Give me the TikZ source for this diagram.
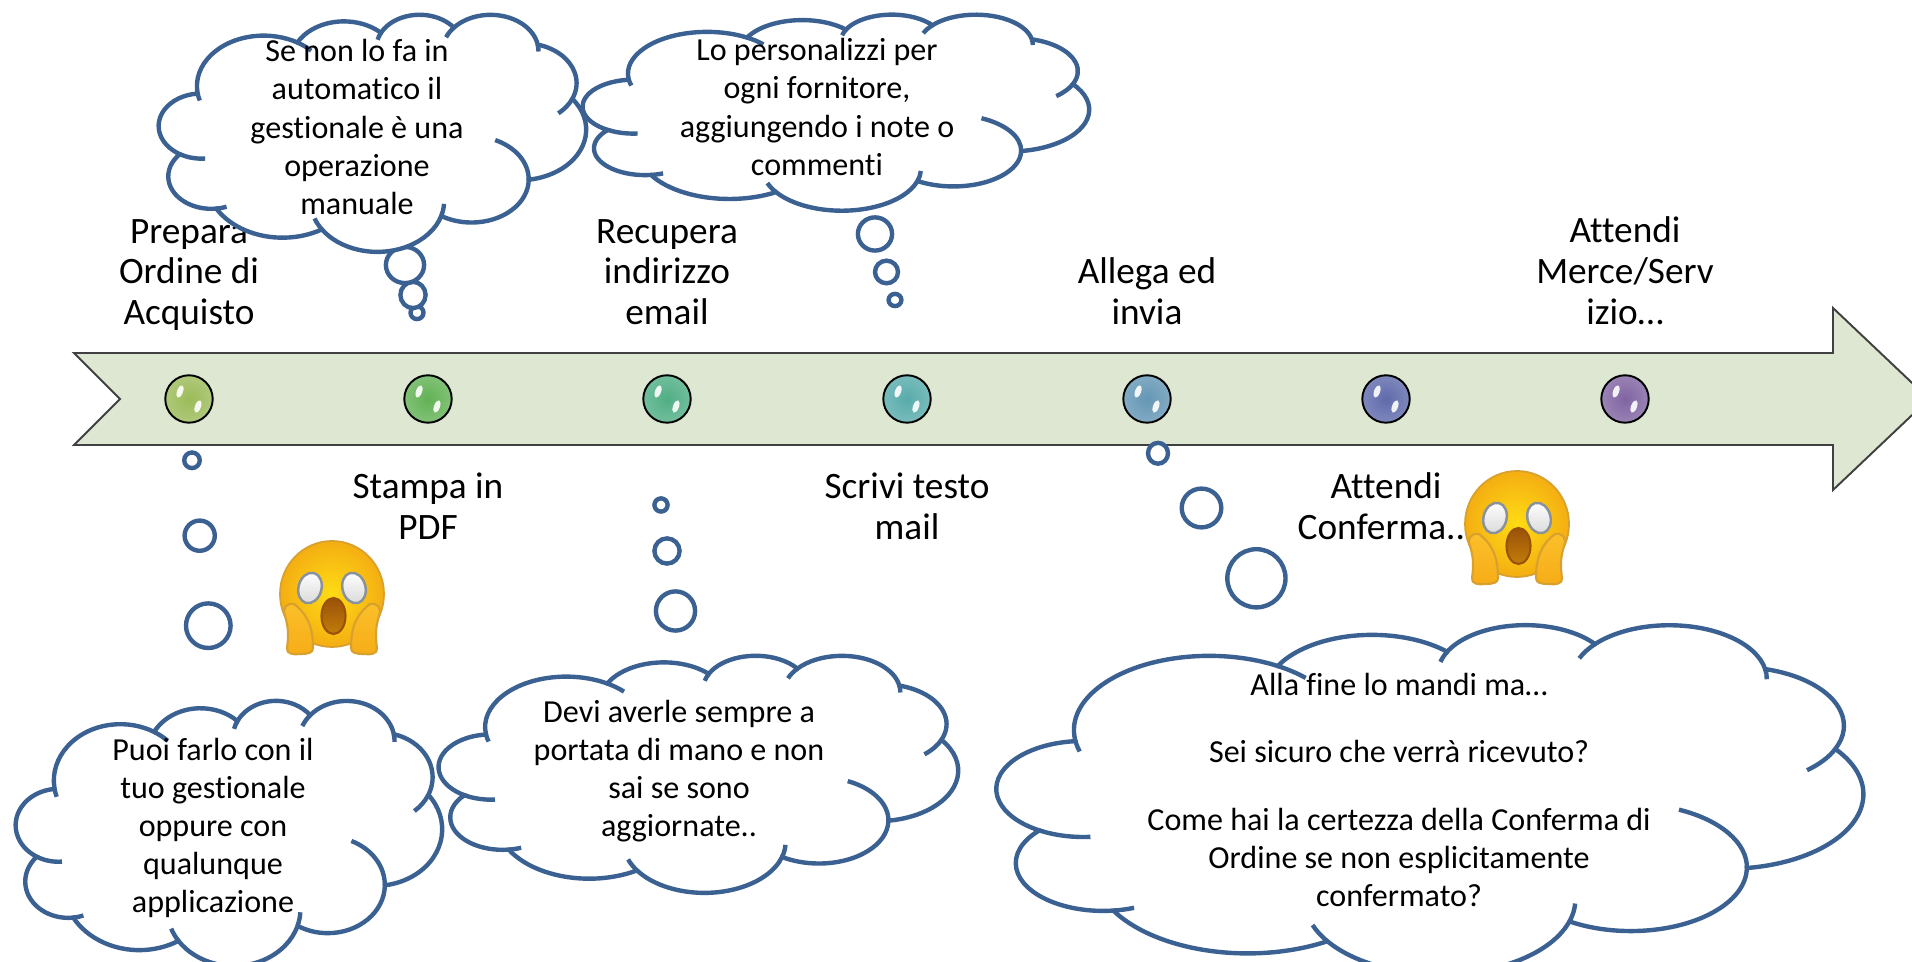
\documentclass[tikz,border=0pt]{standalone}
\usepackage{fontspec}
\setmainfont{Carlito}[Ligatures=NoCommon]
\usetikzlibrary{calc}
\definecolor{bandfill}{HTML}{DEE7D2}
\definecolor{cloudblue}{HTML}{3A6191}
\definecolor{ballA}{HTML}{9BBB59}
\definecolor{ballB}{HTML}{62B255}
\definecolor{ballC}{HTML}{4FAE84}
\definecolor{ballD}{HTML}{58ABAB}
\definecolor{ballE}{HTML}{6496B5}
\definecolor{ballF}{HTML}{5F6AAB}
\definecolor{ballG}{HTML}{8064A2}
\definecolor{facemid}{HTML}{FFDC14}
\definecolor{facerim}{HTML}{F4AE12}
\definecolor{faceline}{HTML}{D8A02E}
\definecolor{handtop}{HTML}{FBC02A}
\definecolor{handlow}{HTML}{F6AC17}
\definecolor{mouthtop}{HTML}{9A5208}
\definecolor{mouthlow}{HTML}{C27C0A}
\definecolor{eyeline}{HTML}{8A919E}
\tikzset{
  cloudline/.style={draw=cloudblue,line width=1.25pt},
  bubble/.style={cloudline,fill=white},
  steptext/.style={align=center,font=\fontsize{10.6}{11.6}\selectfont},
  cloudtext/.style={align=center,font=\fontsize{9.12}{10.87}\selectfont},
  ball/.style={circle,draw=black,line width=0.55pt,minimum size=0.474cm,inner sep=0pt},
  shine/.style={white,opacity=0.9},
  pics/thought/.style={code={
    \draw[cloudline,fill=white] (39,143.7) coordinate (j0)
      arc[x radius=67.53,y radius=91.9,start angle=-187.74,delta angle=128.11] coordinate (j1)
      arc[x radius=53.33,y radius=72.67,start angle=-152.02,delta angle=106.57] coordinate (j2)
      arc[x radius=43.65,y radius=59.45,start angle=-153.49,delta angle=116.17] coordinate (j3)
      arc[x radius=48.57,y radius=65.95,start angle=-139.7,delta angle=129.49] coordinate (j4)
      arc[x radius=53.33,y radius=72.73,start angle=-74.77,delta angle=97.98] coordinate (j5)
      arc[x radius=67.75,y radius=92.2,start angle=-37.53,delta angle=119.39] coordinate (j6)
      arc[x radius=57.85,y radius=78.67,start angle=0.46,delta angle=121.53] coordinate (j7)
      arc[x radius=67.52,y radius=92.15,start angle=16.84,delta angle=129.39] coordinate (j8)
      arc[x radius=77.2,y radius=105.43,start angle=58.98,delta angle=91.21] coordinate (j9)
      arc[x radius=43.6,y radius=59.18,start angle=83.31,delta angle=139.81] coordinate (j10)
      arc[x radius=43.45,y radius=59.45,start angle=120.35,delta angle=143.76] -- cycle;
    \foreach \j/\rx/\ry/\st/\dl in {0/67.53/91.9/-187.74/-9,1/67.53/91.9/-59.63/15,
        2/43.65/59.45/-153.49/-13,3/48.57/65.95/-139.7/-18,4/48.57/65.95/-10.21/11,
        5/53.33/72.73/23.21/26,6/57.85/78.67/0.46/-66,7/67.52/92.15/16.84/-14,
        8/67.52/92.15/146.23/14,9/43.6/59.18/83.31/-14,10/43.45/59.45/120.35/-35}
      \draw[cloudline] (j\j) arc[x radius=\rx,y radius=\ry,start angle=\st,delta angle=\dl];
  }},
  pics/scream/.style={code={
    \shade[inner color=facemid,outer color=facerim,draw=faceline,line width=0.5pt]
      (0,0) ellipse[x radius=52,y radius=53];
    \foreach \s in {1,-1}{
      \begin{scope}[xscale=\s]
        \shade[top color=white,bottom color=gray!30,draw=eyeline,line width=0.7pt,rotate around={-15:(-22,-6)}]
          (-22,-6) ellipse[x radius=11.5,y radius=15.5];
        \shade[top color=handtop,bottom color=handlow,draw=faceline,line width=0.6pt]
          (-38,10) .. controls (-46,9) and (-50,14) .. (-47,22)
          .. controls (-44,32) and (-43,40) .. (-45,54)
          .. controls (-46,60) and (-38,61) .. (-32,60)
          .. controls (-24,60) and (-19,59) .. (-19,54)
          .. controls (-19,38) and (-22,22) .. (-38,10) -- cycle;
      \end{scope}
    }
    \shade[top color=mouthtop,bottom color=mouthlow,draw=mouthtop,line width=0.6pt]
      (1.5,22) ellipse[x radius=12,y radius=18];
  }}
}
\begin{document}
\begin{tikzpicture}[x=0.01cm,y=-0.01cm]
  \useasboundingbox (0,0) rectangle (1912,962);
  \draw[fill=bandfill,draw=black!75,line width=0.55pt] (74,353) -- (1833,353) -- (1833,308)
    -- (1929,399) -- (1833,490) -- (1833,445) -- (74,445) -- (120,399) -- cycle;
  \foreach \i/\x/\col in {1/189/ballA,2/428/ballB,3/667/ballC,4/907/ballD,5/1147/ballE,6/1386/ballF,7/1625/ballG}{
    \node[ball,inner color=\col,outer color=\col!80!white] (b\i) at (\x,399) {};
    \fill[shine,rotate around={-20:($(b\i)+(-11,-4)$)}] ($(b\i)+(-11,-4)$) ellipse[x radius=3,y radius=6.5];
    \fill[shine,rotate around={-20:($(b\i)+(11,4)$)}] ($(b\i)+(11,4)$) ellipse[x radius=3,y radius=6.5];
  }
  % labels over and under the band
  \node[steptext] (t1) at (189,275) {Prepara\\Ordine di\\Acquisto};
  \node[steptext] (t2) at (428,506) {Stampa in\\PDF};
  \node[steptext] (t3) at (667,272) {Recupera\\indirizzo\\email};
  \node[steptext] (t4) at (907,506) {Scrivi testo\\mail};
  \node[steptext] (t5) at (1147,291) {Allega ed\\invia};
  \node[steptext] (t6) at (1386,506) {Attendi\\Conferma..\phantom{.}};
  \node[steptext] (t7) at (1625,271) {Attendi\\Merce/Serv\\izio…};
  % little circles
  \foreach \x/\y/\rx/\ry in {417/312.7/6.5/6.4,413/295/12.6/13.1,405/265/19.1/18.1,
      895/300/6.4/6.1,886.5/272/11.5/11.3,875/234/17.1/16.6,
      192/460.3/7.8/7.8,199.7/535.7/15.1/15.1,208.3/625.7/22.3/22.3,
      661/505/6.6/6.6,667/551/12.6/12.6,675.5/611/19.6/19.6,
      1158/453.3/10/10.4,1201.5/508/19.8/19.4,1256.4/578.3/29.1/29.1}
    \draw[bubble] (\x,\y) ellipse[x radius=\rx,y radius=\ry];
  % clouds
  \pic[xscale=427/432,yscale=237/432] at (159,14) {thought};
  \pic[xscale=506/432,yscale=196/432] at (583,14) {thought};
  \pic[xscale=426/432,yscale=265/432] at (16,700) {thought};
  \pic[xscale=519/432,yscale=237/432] at (439,655) {thought};
  \pic[xscale=866/432,yscale=349/432] at (997,624) {thought};
  \node[cloudtext] (c1) at (357,127) {Se non lo fa in\\automatico il\\gestionale è una\\operazione\\manuale};
  \node[cloudtext] (c2) at (817,107) {Lo personalizzi per\\ogni fornitore,\\aggiungendo i note o\\commenti};
  \node[cloudtext] (c3) at (213,828) {Puoi farlo con il\\tuo gestionale\\oppure con\\qualunque\\applicazione};
  \node[cloudtext] (c4) at (679,771) {Devi averle sempre a\\portata di mano e non\\sai se sono\\aggiornate..};
  \node[cloudtext] (c5) at (1399,790) {Alla fine lo mandi ma…\\[8.25pt]Sei sicuro che verrà ricevuto?\\[8.25pt]Come hai la certezza della Conferma di\\Ordine se non esplicitamente\\confermato?};
  % faces
  \pic at (332,594) {scream};
  \pic at (1517,524) {scream};
\end{tikzpicture}
\end{document}
